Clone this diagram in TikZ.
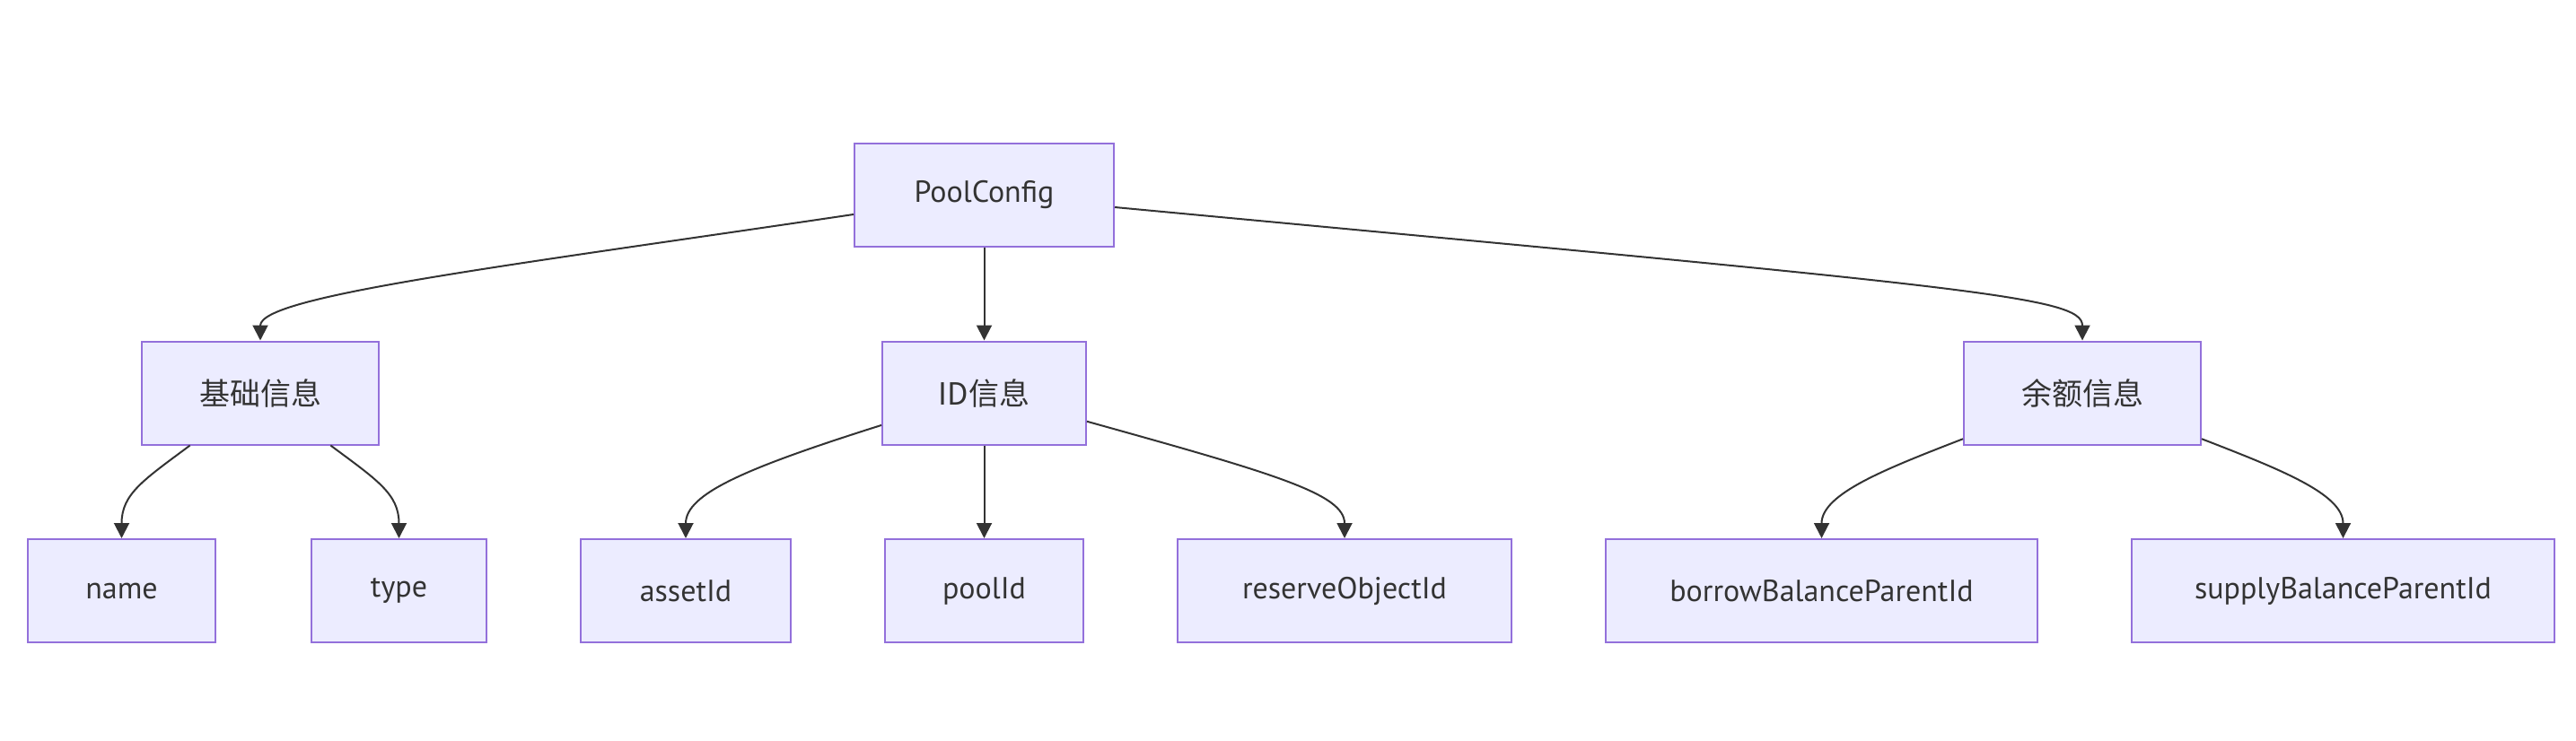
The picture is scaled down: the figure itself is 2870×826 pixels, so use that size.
\documentclass[tikz,border=0pt]{standalone}
\usepackage{fontspec}
\setmainfont{PT Sans}
\newfontfamily\cjk{Noto Sans CJK SC}
\usetikzlibrary{arrows.meta}

\definecolor{boxfill}{HTML}{ECECFF}
\definecolor{boxline}{HTML}{9370DB}
\definecolor{ink}{HTML}{333333}

\begin{document}
\begin{tikzpicture}[>={Triangle[width=17pt,length=17pt]}]
   \tikzstyle{every node}=[node distance=220.5pt]
   \tikzstyle{box}=[draw=boxline,line width=2pt,fill=boxfill,text=ink,minimum height=115pt,font=\fontsize{34}{40}\selectfont]
   \tikzstyle{link}=[draw=ink,line width=2pt,->]

   \useasboundingbox (0,0) rectangle (2870pt,-826pt) ;

   \node (pc) [box,minimum width=289pt] at (1096.5pt,-217.5pt) {PoolConfig} ;

   \node (jc) [box,below of=pc,xshift=-806.5pt,minimum width=264pt] {\cjk 基础信息} ;
   \node (id) [box,below of=pc,minimum width=227pt] {\cjk ID信息} ;
   \node (ye) [box,below of=pc,xshift=1223.5pt,minimum width=264pt] {\cjk 余额信息} ;

   \node (name) [box,below of=jc,xshift=-154.5pt,minimum width=209pt] {name} ;
   \node (type) [box,below of=jc,xshift=154.5pt,minimum width=195pt] {type} ;
   \node (asset) [box,below of=id,xshift=-332.5pt,minimum width=234pt] {assetId} ;
   \node (pool) [box,below of=id,minimum width=221pt] {poolId} ;
   \node (reserve) [box,below of=id,xshift=401.5pt,minimum width=372pt] {reserveObjectId} ;
   \node (borrow) [box,below of=ye,xshift=-290.5pt,minimum width=481pt] {borrowBalanceParentId} ;
   \node (supply) [box,below of=ye,xshift=290.5pt,minimum width=471pt] {supplyBalanceParentId} ;

   \draw [link] (pc) .. controls +(-540pt,-80pt) and +(0,108pt) .. (jc) ;
   \draw [link] (pc) -- (id) ;
   \draw [link] (pc) .. controls +(1100pt,-103pt) and +(0,108pt) .. (ye) ;

   \draw [link] (jc) .. controls +(-130pt,-97pt) and +(0,108pt) .. (name) ;
   \draw [link] (jc) .. controls +(130pt,-97pt) and +(0,108pt) .. (type) ;
   \draw [link] (id) .. controls +(-266.5pt,-84pt) and +(0,108pt) .. (asset) ;
   \draw [link] (id) -- (pool) ;
   \draw [link] (id) .. controls +(323.5pt,-90pt) and +(0,108pt) .. (reserve) ;
   \draw [link] (ye) .. controls +(-220pt,-85pt) and +(0,108pt) .. (borrow) ;
   \draw [link] (ye) .. controls +(220pt,-85pt) and +(0,108pt) .. (supply) ;

\end{tikzpicture}
\end{document}
